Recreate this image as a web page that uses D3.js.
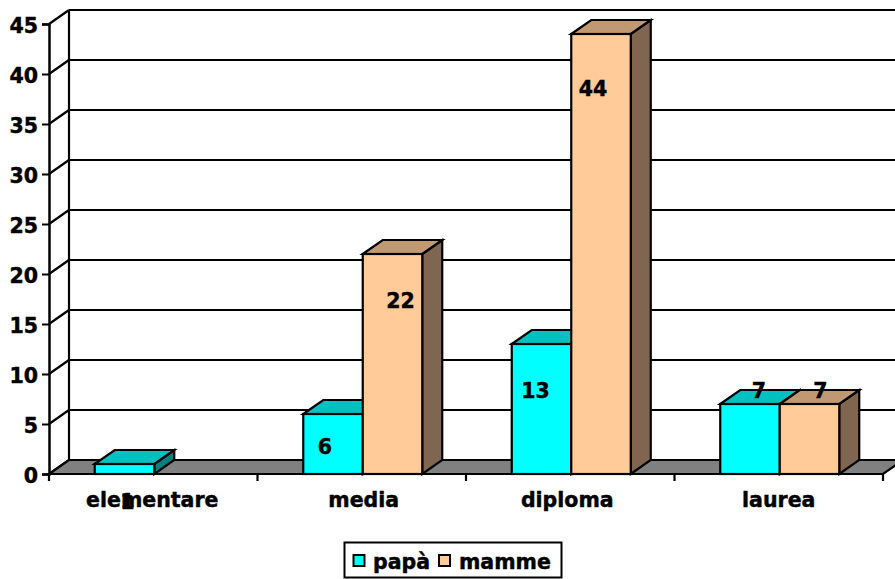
<!DOCTYPE html>
<html>
<head>
<meta charset="utf-8">
<script src="https://cdn.jsdelivr.net/npm/d3@7/dist/d3.min.js"></script>
<style>
html,body{margin:0;padding:0;background:#fff}
svg{display:block}
text{font-family:"DejaVu Sans",sans-serif;font-weight:bold;fill:#000;font-size:20.5px;stroke:#000;stroke-width:0.45px}
</style>
</head>
<body>
<svg id="c" width="895" height="579"></svg>
<script>
const categories = ["elementare", "media", "diploma", "laurea"];
const seriesNames = ["papà", "mamme"];
const papa = [1, 6, 13, 7];
const mamme = [null, 22, 44, 7];
const yTicks = [0, 5, 10, 15, 20, 25, 30, 35, 40, 45];

const colors = {
  "papà": {front: "#00ffff", top: "#00c0c0", side: "#008080"},
  "mamme": {front: "#ffcc99", top: "#c09973", side: "#806650"}
};
// Hand placement of the value labels, as in the reference: [dx from bar centre, baseline y in px]
const labelPlace = {
  "papà": [[3, 509], [-8, 454], [-6, 398], [9, 398]],
  "mamme": [null, [8, 308], [-8, 96], [11, 398]]
};
const categoryNudge = [-1, 2, -3, 0];

const svg = d3.select("#c");
const dx = 20, dy = -14;
const left = 49, right = 883;
const y = d3.scaleLinear().domain([0, 45]).range([474, 24]);
const x0 = d3.scaleBand().domain(categories).range([left, right]);
const x1 = d3.scaleBand().domain(seriesNames).range([45.75, x0.bandwidth() - 43.75]);
const pts = a => a.map(p => p.join(",")).join(" ");
const ink = g => g.attr("stroke", "#000").attr("stroke-width", 2.2).attr("stroke-linejoin", "miter");

// back wall gridlines + side wall diagonals
const walls = svg.append("g").call(ink).attr("fill", "none");
yTicks.forEach(t => {
  if (t > 0) walls.append("line").attr("x1", left + dx).attr("x2", 895).attr("y1", y(t) + dy).attr("y2", y(t) + dy);
  walls.append("line").attr("x1", left).attr("y1", y(t)).attr("x2", left + dx).attr("y2", y(t) + dy);
});
walls.append("line").attr("x1", left + dx).attr("x2", left + dx).attr("y1", y(45) + dy).attr("y2", y(0) + dy);

// floor
svg.append("polygon").call(ink).attr("fill", "#808080")
  .attr("points", pts([[left, y(0)], [left + dx, y(0) + dy], [right + dx, y(0) + dy], [right, y(0)]]));

// y axis
const yAxis = d3.axisLeft(y).tickValues(yTicks).tickSize(7).tickPadding(4).tickFormat(d3.format("d"));
const ya = svg.append("g").attr("transform", `translate(${left},0)`).call(yAxis);
ya.selectAll("path").attr("stroke", "#000").attr("stroke-width", 2.5);
ya.selectAll("line").attr("stroke", "#000").attr("stroke-width", 2);
ya.selectAll("text").attr("transform", "translate(0,2)").style("font-size", "20.5px").style("font-family", '"DejaVu Sans",sans-serif').style("font-weight", "bold");

// x axis
const xa = svg.append("g").attr("transform", `translate(0,${y(0)})`);
xa.append("line").call(ink).attr("x1", left).attr("x2", right);
xa.selectAll(".t").data(d3.range(categories.length + 1)).join("line").attr("class", "t").call(ink)
  .attr("x1", i => left + i * x0.step()).attr("x2", i => left + i * x0.step()).attr("y1", 0).attr("y2", 7);
xa.selectAll(".l").data(categories).join("text").attr("class", "l")
  .attr("text-anchor", "middle")
  .attr("x", (d, i) => x0(d) + x0.bandwidth() / 2 + categoryNudge[i])
  .attr("y", 33).text(d => d);

// bars
const series = [["papà", papa], ["mamme", mamme]];
series.forEach(([name, vals]) => {
  const g = svg.append("g").call(ink);
  const c = colors[name];
  vals.forEach((v, i) => {
    if (v == null) return;
    const a = x0(categories[i]) + x1(name), b = a + x1.bandwidth(), t = y(v), f = y(0);
    g.append("polygon").attr("fill", c.side)
      .attr("points", pts([[b, f], [b + dx, f + dy], [b + dx, t + dy], [b, t]]));
    g.append("polygon").attr("fill", c.top)
      .attr("points", pts([[a, t], [a + dx, t + dy], [b + dx, t + dy], [b, t]]));
    g.append("rect").attr("fill", c.front).attr("x", a).attr("y", t).attr("width", b - a).attr("height", f - t);
  });
});

// value labels
series.forEach(([name, vals]) => {
  vals.forEach((v, i) => {
    if (v == null) return;
    const a = x0(categories[i]) + x1(name);
    const [ox, by] = labelPlace[name][i];
    svg.append("text").attr("text-anchor", "middle")
      .attr("x", a + x1.bandwidth() / 2 + ox).attr("y", by).text(v);
  });
});

// legend
const lg = svg.append("g");
lg.append("rect").attr("x", 344.5).attr("y", 542.5).attr("width", 217).attr("height", 35)
  .attr("fill", "#fff").attr("stroke", "#000").attr("stroke-width", 2);
const legendX = [[353.5, 373], [439, 459]];
seriesNames.forEach((n, i) => {
  lg.append("rect").attr("x", legendX[i][0]).attr("y", 555).attr("width", 11).attr("height", 11)
    .attr("fill", colors[n].front).attr("stroke", "#000").attr("stroke-width", 2);
  lg.append("text").attr("x", legendX[i][1]).attr("y", 569).text(n);
});
</script>
</body>
</html>
